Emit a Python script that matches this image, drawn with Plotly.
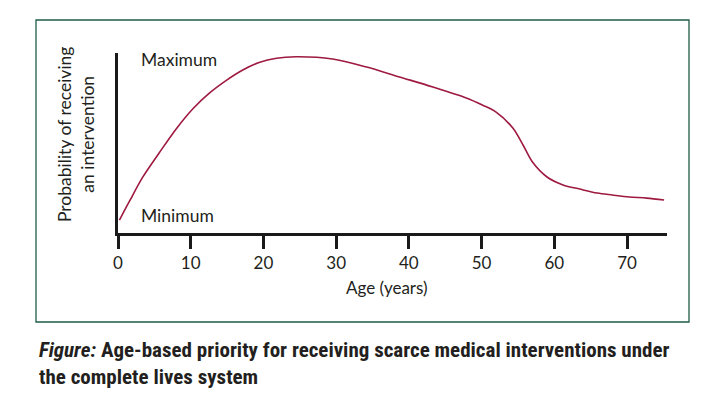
import plotly.graph_objects as go

ages = [0.2, 1.6, 3.4, 5.7, 8.0, 10.3, 12.6, 14.9, 17.1, 19.4, 21.8, 24.5, 29.5, 34.2,
        38.7, 43.3, 47.9, 50.1, 52.0, 54.3, 55.7, 57.0, 59.0, 61.2, 63.5, 65.9, 68.0, 70.3, 72.7, 75.1]
probability = [0.072, 0.178, 0.31, 0.447, 0.578, 0.69, 0.778, 0.848, 0.904, 0.947, 0.971, 0.979,
               0.967, 0.922, 0.867, 0.811, 0.75, 0.711, 0.672, 0.583, 0.489, 0.394, 0.311, 0.267,
               0.244, 0.222, 0.211, 0.2, 0.194, 0.183]
tick_vals = [0, 10, 20, 30, 40, 50, 60, 70]
tick_text = ["0", "10", "20", "30", "40", "50", "60", "70"]

OFF = 8  # page body margin
W, H = 714 - OFF, 399 - OFF
L, R, T, B = 118 - OFF, 47, 53 - OFF, 166
pw, ph = W - L - R, H - T - B

def px(x):
    return (x - OFF - L) / pw

def py(y):
    return (H - B - (y - OFF)) / ph

FONT = "Lato, 'Open Sans', sans-serif"
TXT = "#231f20"

fig = go.Figure()
fig.add_trace(go.Scatter(x=ages, y=probability, mode="lines",
                         line=dict(color="#9e1a40", width=1.6, shape="spline", smoothing=0.9),
                         hoverinfo="skip", showlegend=False))

fig.update_layout(
    width=W, height=H,
    margin=dict(l=L, r=R, t=T, b=B),
    paper_bgcolor="white", plot_bgcolor="white",
    font=dict(family=FONT, size=17, color=TXT),
    xaxis=dict(range=[0, 75.5], tickvals=tick_vals, ticktext=tick_text,
               showgrid=False, zeroline=False, showline=True, linecolor="#1a1a1a", linewidth=2.5,
               ticks="outside", ticklen=13, tickwidth=2.5, tickcolor="#1a1a1a",
               tickfont=dict(family=FONT, size=17, color=TXT), fixedrange=True),
    yaxis=dict(range=[0, 1], showticklabels=False, showgrid=False, zeroline=False,
               showline=True, linecolor="#1a1a1a", linewidth=2.5, ticks="", fixedrange=True),
    shapes=[dict(type="rect", xref="paper", yref="paper",
                 x0=px(36), x1=px(689), y0=py(322), y1=py(20),
                 line=dict(color="#1f5c45", width=1.3), fillcolor="rgba(0,0,0,0)", layer="below")],
    annotations=[
        dict(text="Maximum", xref="paper", yref="paper", x=px(139), y=py(60),
             xanchor="left", yanchor="middle", showarrow=False, font=dict(size=17.5)),
        dict(text="Minimum", xref="paper", yref="paper", x=px(139), y=py(215),
             xanchor="left", yanchor="middle", showarrow=False, font=dict(size=17.5)),
        dict(text="Age (years)", xref="paper", yref="paper", x=px(387), y=py(287),
             xanchor="center", yanchor="middle", showarrow=False, font=dict(size=17)),
        dict(text="Probability of receiving<br>an intervention", xref="paper", yref="paper",
             x=px(76), y=py(135), xanchor="center", yanchor="middle", textangle=-90,
             showarrow=False, font=dict(size=17.5)),
        dict(text="<b><i>Figure:</i> Age-based priority for receiving scarce medical interventions under"
                  "<br>the complete lives system</b>",
             xref="paper", yref="paper", x=px(37), y=py(336), xanchor="left", yanchor="top",
             align="left", showarrow=False,
             font=dict(family="'Liberation Sans Narrow', 'Roboto Condensed', Roboto, sans-serif",
                       size=21, color=TXT)),
    ],
)

fig.write_html("out.html")
